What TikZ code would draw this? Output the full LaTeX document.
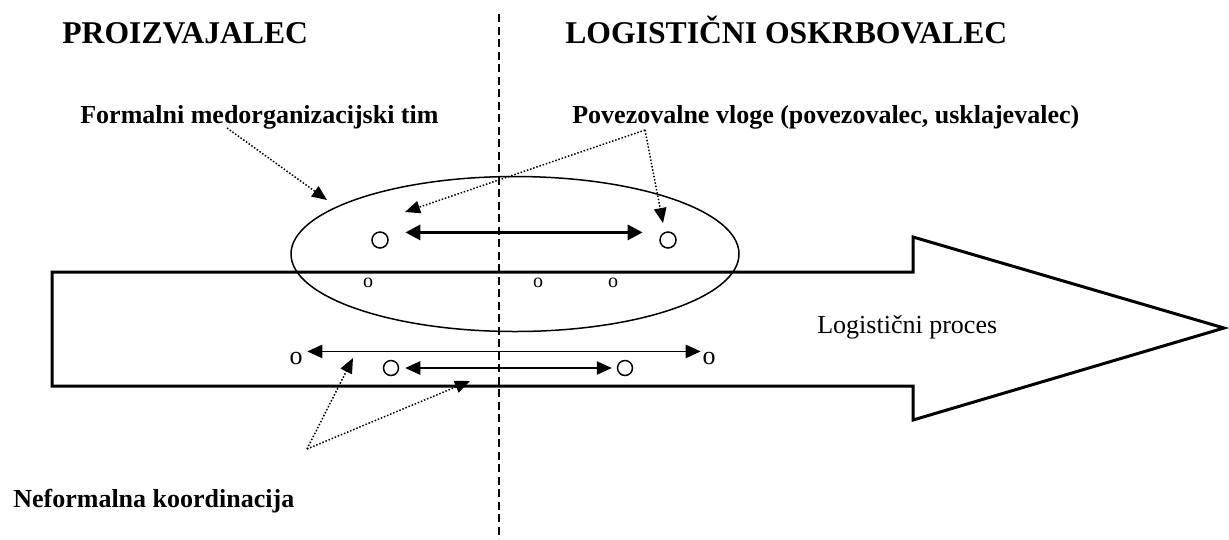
\documentclass[tikz,border=0pt]{standalone}
\usepackage{fontspec}
\setmainfont{Liberation Serif}
\usepackage{tikz}
\usetikzlibrary{arrows.meta,shapes.geometric}

\begin{document}
\begin{tikzpicture}[
    x=0.6pt, y=-0.6pt,
    heading/.style={anchor=base west, inner sep=0pt,
                    font=\fontsize{19}{23}\selectfont\bfseries},
    note/.style={anchor=base west, inner sep=0pt,
                 font=\fontsize{15.6}{19}\selectfont\bfseries},
    ring/.style={draw, circle, minimum size=9.6pt, inner sep=0pt,
                 line width=0.9pt},
    letter/.style={inner sep=0pt, font=\fontsize{12}{14}\selectfont},
    bigletter/.style={inner sep=0pt, font=\fontsize{15.6}{19}\selectfont},
    link/.style={{Triangle[length=9pt,width=8pt]}-{Triangle[length=9pt,width=8pt]},
                 line width=0.9pt},
    strong link/.style={{Triangle[length=9pt,width=9pt]}-{Triangle[length=9pt,width=9pt]},
                        line width=1.8pt},
    pointer/.style={-{Triangle[length=9pt,width=7.5pt]},
                    dash pattern=on 0.9pt off 1.1pt, line width=0.9pt},
    boundary/.style={dash pattern=on 5pt off 2.5pt, line width=0.8pt},
  ]
  \useasboundingbox (0,0) rectangle (1229,539);

  % Logistic process arrow
  \draw[line width=1.8pt] (52,272) -- (913,272) -- (913,237) -- (1224,328)
    -- (913,420) -- (913,386) -- (52,386) -- cycle;
  \node[anchor=base west, inner sep=0pt, font=\fontsize{15.6}{19}\selectfont]
    (proc) at (817,333) {Logistični proces};

  % Border between the two companies
  \draw[boundary] (499,14) -- (499,539);

  % Headings
  \node[heading] (prod) at (62,43) {PROIZVAJALEC};
  \node[heading] (lsp) at (565,43) {LOGISTIČNI OSKRBOVALEC};

  % Formal team
  \node[draw, ellipse, minimum width=268.8pt, minimum height=93pt,
        line width=0.9pt] (team) at (515,254) {};
  \node[ring] (liaA) at (380,240) {};
  \node[ring] (liaB) at (668,240) {};
  \draw[strong link, shorten <=12.6pt, shorten >=12.6pt]
    (liaA.60) -- (liaB.120);

  % Points on the process
  \node[letter] (pt1) at (368,283) {o};
  \node[letter] (pt2) at (538,283) {o};
  \node[letter] (pt3) at (613,283) {o};

  % Informal coordination
  \node[bigletter] (infL) at (296,358) {o};
  \node[bigletter] (infR) at (709,358) {o};
  \draw[link, shorten <=2.7pt, shorten >=0.9pt]
    (infL.north east) -- (infR.north west);
  \node[ring, minimum size=9pt] (infA) at (391,368) {};
  \node[ring, minimum size=9pt] (infB) at (625,368) {};
  \draw[link, shorten <=3.6pt, shorten >=3pt] (infA) -- (infB);

  % Labels
  \node[note] (formal) at (80,123) {Formalni medorganizacijski tim};
  \node[note] (roles) at (572,123)
    {Povezovalne vloge (povezovalec, usklajevalec)};
  \node[note] (informal) at (13,507) {Neformalna koordinacija};

  % Pointers
  \coordinate (formFrom) at (227,128);
  \coordinate (formTo) at (327,200);
  \coordinate (rolesFrom) at (645,130);
  \coordinate (rolesToA) at (405,212);
  \coordinate (rolesToB) at (663,223);
  \coordinate (infFrom) at (307,449);
  \coordinate (infToA) at (353,358);
  \coordinate (infToB) at (470,381);

  \draw[pointer] (formFrom) -- (formTo);
  \draw[pointer] (rolesFrom) -- (rolesToA);
  \draw[pointer] (rolesFrom) -- (rolesToB);
  \draw[pointer] (infFrom) -- (infToA);
  \draw[pointer] (infFrom) -- (infToB);

\end{tikzpicture}
\end{document}
